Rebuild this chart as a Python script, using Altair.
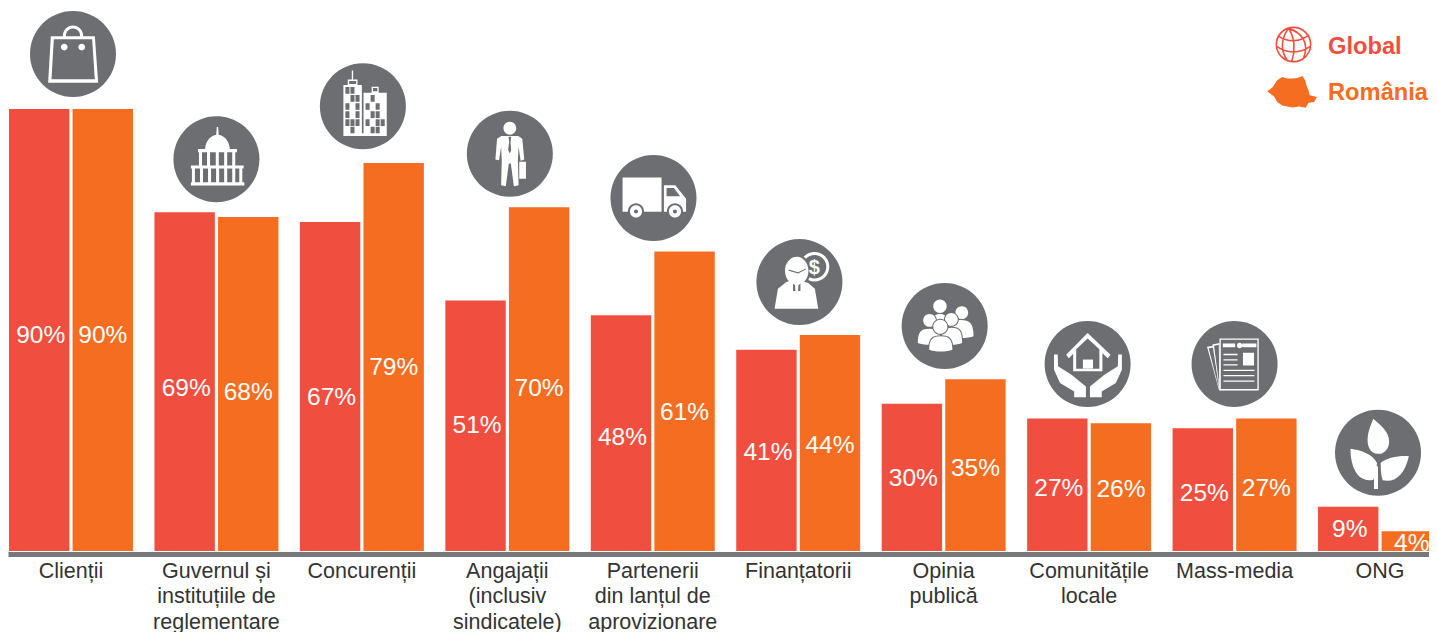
import altair as alt

categories = ["Clienții", "Guvernul și|instituțiile de|reglementare", "Concurenții",
              "Angajații|(inclusiv|sindicatele)", "Partenerii|din lanțul de|aprovizionare",
              "Finanțatorii", "Opinia|publică", "Comunitățile|locale", "Mass-media", "ONG"]
global_vals = [90, 69, 67, 51, 48, 41, 30, 27, 25, 9]
romania_vals = [90, 68, 79, 70, 61, 44, 35, 26, 27, 4]
global_label_level = [44.0, 33.4, 31.4, 25.7, 23.4, 20.2, 14.9, 13.0, 12.0, 4.5]
romania_label_level = [44.0, 32.4, 37.5, 33.4, 28.5, 21.6, 17.1, 12.8, 13.0, 1.8]
icon_level = [101.2, 79.8, 90.6, 80.9, 71.9, 54.8, 45.8, 38.1, 38.1, 20.0]
icon_nudge = [2, 0, 1, 2.5, 0.7, 1.2, 1, -1.5, 0, -2]
series = ["Global", "România"]

RED = "#F04E3E"
ORANGE = "#F46D21"
GRAY = "#6D6E71"
WHITE = "#FFFFFF"
FONT = "Liberation Sans"
UNIT = 128.0  # glyph drawing units per circle radius
ICON_SIZE = 86 ** 2
SCALE_W, PLOT_W, PLOT_H = 1435, 1421, 543
YMAX = PLOT_H / 4.91


def n(v):
    return f"{v / UNIT:.4f}"


def pt(x, y):
    return f"{n(x)} {n(y)}"


def poly(pts):
    return "M" + "L".join(pt(x, y) for x, y in pts) + "Z"


def rect(x, y, w, h):
    return poly([(x, y), (x + w, y), (x + w, y + h), (x, y + h)])


def ell(cx, cy, rx, ry=None):
    ry = rx if ry is None else ry
    k = 0.5523
    return ("M" + pt(cx - rx, cy)
            + "C" + pt(cx - rx, cy - k * ry) + " " + pt(cx - k * rx, cy - ry) + " " + pt(cx, cy - ry)
            + "C" + pt(cx + k * rx, cy - ry) + " " + pt(cx + rx, cy - k * ry) + " " + pt(cx + rx, cy)
            + "C" + pt(cx + rx, cy + k * ry) + " " + pt(cx + k * rx, cy + ry) + " " + pt(cx, cy + ry)
            + "C" + pt(cx - k * rx, cy + ry) + " " + pt(cx - rx, cy + k * ry) + " " + pt(cx - rx, cy) + "Z")


def curve(start, *segs):
    d = "M" + pt(*start)
    for a, b, c in segs:
        d += "C" + pt(*a) + " " + pt(*b) + " " + pt(*c)
    return d + "Z"


def body(x0, x1, top, bot):
    mid = (x0 + x1) / 2
    return curve((x0, bot),
                 ((x0, top + (bot - top) * 0.2), (x0 + (x1 - x0) * 0.15, top), (mid, top)),
                 ((x1 - (x1 - x0) * 0.15, top), (x1, top + (bot - top) * 0.2), (x1, bot)),
                 ((x1 - 15, bot + 7), (x0 + 15, bot + 7), (x0, bot)))


def shift(pts, cx, cy):
    return [(x - cx, y - cy) for x, y in pts]


# ---- glyphs (white / gray stacks drawn over the grey disc) ----
def bag():
    c = (219, 163)
    rel = lambda *p: shift(list(p), *c)
    return [
        (WHITE, ell(0, 108 - 163, 30)),
        (GRAY, ell(0, 108 - 163, 21)),
        (WHITE, poly(rel((153, 110), (284, 110), (294, 248), (145, 248)))),
        (GRAY, poly(rel((162, 119), (276, 119), (284, 238), (155, 238)))),
        (WHITE, ell(193 - 219, 142 - 163, 10) + ell(245 - 219, 142 - 163, 10)),
    ]


def dome():
    cx, cy = 649, 477
    d = poly(shift([(650, 381), (654, 381), (656, 408), (648, 408)], cx, cy))
    d += curve((615 - cx, 447 - cy), ((617 - cx, 420 - cy), (635 - cx, 404 - cy), (652 - cx, 404 - cy)),
               ((670 - cx, 404 - cy), (687 - cx, 420 - cy), (689 - cx, 447 - cy)),
               ((670 - cx, 447 - cy), (640 - cx, 447 - cy), (615 - cx, 447 - cy)))
    d += rect(594 - cx, 447 - cy, 116, 9)
    for x in (597, 621, 647, 672, 696):
        d += rect(x - cx, 456 - cy, 9, 40)
    d += rect(573 - cx, 496 - cy, 157, 9)
    for x in (576, 600, 624, 648, 672, 696, 717):
        d += rect(x - cx, 505 - cy, 9, 41)
    d += rect(573 - cx, 546 - cy, 159, 9)
    return [(WHITE, d)]


def towers():
    cx, cy = 1090, 319
    w = rect(1032 - cx, 256 - cy, 55, 151) + rect(1092 - cx, 279 - cy, 69, 128)
    w += rect(1032 - cx, 400 - cy, 129, 8) + rect(1057 - cx, 213 - cy, 4, 28)
    w += rect(1045 - cx, 240 - cy, 29, 16) + rect(1116 - cx, 261 - cy, 21, 18)
    g = rect(1049 - cx, 244 - cy, 21, 9) + rect(1120 - cx, 265 - cy, 13, 10)
    rows = {262: (1038, 1053), 286: (1053, 1068), 310: (1038, 1068), 334: (1038, 1068),
            358: (1038, 1053, 1068), 380: (1053,)}
    for y, xs in rows.items():
        for x in xs:
            g += rect(x - cx, y - cy, 12, 20)
    rows = {286: (1113,), 310: (1098, 1128), 334: (1113, 1128), 358: (1098, 1128, 1143), 380: (1113, 1128)}
    for y, xs in rows.items():
        for x in xs:
            g += rect(x - cx, y - cy, 12, 20)
    return [(WHITE, w), (GRAY, g)]


def man():
    c = (210, 161)
    w = ell(0, 85 - 161, 19)
    w += poly(shift([(185, 108), (235, 108), (247, 116), (253, 178), (242, 182), (236, 140), (234, 180),
                     (236, 255), (222, 258), (213, 190), (207, 190), (198, 258), (184, 255),
                     (186, 180), (184, 140), (178, 180), (167, 178), (172, 116)], *c))
    w += rect(238 - 210, 185 - 161, 20, 50)
    g = poly(shift([(206, 110), (214, 110), (212, 125), (214, 150), (210, 160), (205, 150), (208, 125)], *c))
    return [(WHITE, w), (GRAY, g)]


def truck():
    cx, cy = 641, 295
    w = rect(549 - cx, 234 - cy, 116, 102)
    w += poly(shift([(672, 257), (706, 257), (738, 297), (738, 336), (672, 336)], cx, cy))
    g = poly(shift([(680, 265), (702, 265), (720, 290), (680, 290)], cx, cy))
    g += ell(589 - cx, 335 - cy, 24) + ell(705 - cx, 335 - cy, 24)
    w2 = ell(589 - cx, 335 - cy, 18) + ell(705 - cx, 335 - cy, 18)
    g2 = ell(589 - cx, 335 - cy, 6) + ell(705 - cx, 335 - cy, 6)
    return [(WHITE, w), (GRAY, g), (WHITE, w2), (GRAY, g2)]


def financier():
    cx, cy = 1079, 545
    return [
        (WHITE, ell(1124 - cx, 500 - cy, 44)),
        (GRAY, ell(1124 - cx, 500 - cy, 35)),
        (GRAY, ell(1071 - cx, 512 - cy, 42, 48)),
        (WHITE, ell(1071 - cx, 512 - cy, 35, 42)
         + poly(shift([(1040, 545), (1060, 540), (1071, 555), (1082, 540), (1105, 548), (1125, 565),
                       (1135, 625), (1005, 625), (1015, 565)], cx, cy))),
        (GRAY, poly(shift([(1047, 508), (1075, 516), (1098, 505), (1098, 508), (1075, 520), (1047, 512)], cx, cy))
         + poly(shift([(1060, 550), (1066, 555), (1067, 572), (1060, 572)], cx, cy))
         + poly(shift([(1082, 550), (1076, 555), (1075, 572), (1082, 572)], cx, cy))),
    ]


def people():
    out = []
    figs = [(-14, -59, 20, -35, 7, -36, -8),
            (51, -40, 19, 10, 86, -18, 30),
            (-45, -17, 19, -80, -10, 8, 50),
            (20, -20, 19, -10, 52, 5, 50),
            (-13, 2, 21, -46, 23, 30, 70)]
    for hx, hy, r, x0, x1, top, bot in figs:
        out.append((GRAY, ell(hx, hy, r + 3) + body(x0 - 3, x1 + 3, top - 3, bot + 1)))
        out.append((WHITE, ell(hx, hy, r) + body(x0, x1, top, bot)))
    return out


def house_hands():
    left = [(-100, -28), (-89, -28), (-88, 7), (-48, 32), (-5, 67), (-5, 99), (-40, 99), (-40, 82),
            (-82, 57), (-100, 17)]
    right = [(2 - x, y) for x, y in left]
    white = poly(left) + poly(right)
    white += poly([(-64, -27), (0, -92), (68, -27), (60, -17), (0, -74), (-56, -17)])
    white += rect(-43, -48, 87, 70)
    gray = poly([(-34, -44), (0, -76), (35, -44), (35, 14), (-34, 14)])
    door = rect(-14, -13, 30, 27)
    return [(WHITE, white), (GRAY, gray), (WHITE, door)]


def newspaper():
    out = [
        (WHITE, poly([(-82, -51), (-62, -54), (-45, 79), (-46, 79)])),
        (GRAY, poly([(-77, -47), (-62, -49), (-47, 72)])),
        (WHITE, poly([(-66, -58), (-45, -62), (-42, 79), (-44, 79)])),
        (GRAY, poly([(-61, -54), (-47, -57), (-45, 68)])),
        (WHITE, rect(-45, -76, 117, 155)),
        (GRAY, rect(-41, -72, 109, 147)),
    ]
    d = rect(-35, -61, 37, 11) + ell(15, -55, 8) + rect(23, -61, 42, 11) + rect(25, -33, 33, 38)
    for y in (-30, -14, 1):
        d += rect(-33, y, 42, 4)
    for y in (17, 33, 49):
        d += rect(-33, y, 92, 4)
    out.append((WHITE, d))
    return out


def plant():
    d = curve((-14, -101), ((10, -80), (35, -60), (33, -30)), ((32, -10), (15, 5), (2, 3)),
              ((-20, 5), (-32, -15), (-31, -40)), ((-30, -65), (-20, -85), (-14, -101)))
    d += curve((-82, -12), ((-50, -8), (-15, 5), (-3, 30)), ((-4, 50), (-8, 65), (-14, 80)),
               ((-55, 90), (-82, 50), (-82, -12)))
    d += curve((92, 10), ((60, 8), (25, 15), (8, 30)), ((8, 45), (8, 65), (14, 82)),
               ((55, 90), (80, 60), (92, 10)))
    d += rect(-12, 40, 12, 68)
    return [(WHITE, d)]


ICONS = [bag(), dome(), towers(), man(), truck(), financier(), people(), house_hands(), newspaper(), plant()]

GLOBE = (ell(0, 0, 51)
         + "M" + pt(-45, -25) + "C" + pt(-15, -5) + " " + pt(20, -8) + " " + pt(45, -28)
         + "M" + pt(-51, 5) + "C" + pt(-20, 28) + " " + pt(20, 28) + " " + pt(51, 5)
         + "M" + pt(-15, -48) + "C" + pt(-42, -10) + " " + pt(-35, 25) + " " + pt(-18, 48)
         + "M" + pt(-15, -48) + "C" + pt(5, -20) + " " + pt(5, 20) + " " + pt(-5, 50)
         + "M" + pt(-15, -48) + "C" + pt(25, -35) + " " + pt(48, -5) + " " + pt(30, 40))
ROMANIA = poly(shift([(55, 243), (70, 232), (85, 210), (100, 200), (115, 205), (130, 205), (145, 203),
                      (160, 197), (168, 210), (172, 225), (178, 240), (182, 255), (203, 260), (195, 275),
                      (178, 277), (170, 292), (150, 288), (130, 291), (100, 285), (85, 275), (75, 258)],
                     129, 245))

# ---- data table ----
rows = []
for s, vals, lv in ((series[0], global_vals, global_label_level), (series[1], romania_vals, romania_label_level)):
    for c, v, l in zip(categories, vals, lv):
        rows.append({"cat": c, "series": s, "value": v, "level": l, "text": f"{v}%"})

xscale = alt.Scale(type="band", domain=categories, range=[0, SCALE_W], paddingInner=0.1478, paddingOuter=0.007)
yscale = alt.Scale(domain=[0, YMAX], nice=False)
oscale = alt.Scale(type="band", domain=series, paddingInner=0.05)

xaxis = alt.Axis(title=None, ticks=False, grid=False, domainColor="#77787B", domainWidth=5, offset=3,
                 labelAngle=0, labelFont=FONT, labelFontSize=21.5, labelColor="#333333", labelLineHeight=25.5,
                 labelPadding=6, labelBaseline="top", labelOverlap=False, labelLimit=300,
                 labelExpr="split(datum.label, '|')", zindex=1)

base = alt.Chart(alt.Data(values=rows))
bars = base.mark_bar(opacity=1).encode(
    x=alt.X("cat:N", scale=xscale, axis=xaxis),
    xOffset=alt.XOffset("series:N", scale=oscale),
    y=alt.Y("value:Q", scale=yscale, axis=None),
    color=alt.Color("series:N", scale=alt.Scale(domain=series, range=[RED, ORANGE]), legend=None),
)

layers = [bars]
for s, dx in ((series[0], 1.5), (series[1], 0)):
    layers.append(base.transform_filter(alt.datum.series == s)
                  .mark_text(color=WHITE, font=FONT, fontSize=24.5, baseline="middle", dx=dx, dy=1.5).encode(
        x=alt.X("cat:N", scale=xscale, axis=xaxis),
        xOffset=alt.XOffset("series:N", scale=oscale),
        y=alt.Y("level:Q", scale=yscale, axis=None),
        text="text:N",
    ))

enc = dict(x=alt.X("cat:N", scale=xscale, axis=xaxis), y=alt.Y("level:Q", scale=yscale, axis=None))
for c, lvl, nudge, stack in zip(categories, icon_level, icon_nudge, ICONS):
    one = alt.Chart(alt.Data(values=[{"cat": c, "level": lvl}]))
    layers.append(one.mark_point(shape=ell(0, 0, UNIT), size=ICON_SIZE, filled=True, opacity=1, color=GRAY,
                                 strokeWidth=0, xOffset=nudge).encode(**enc))
    for col, path in stack:
        layers.append(one.mark_point(shape=path, size=ICON_SIZE, filled=True, opacity=1, color=col,
                                     strokeWidth=0, xOffset=nudge).encode(**enc))
    if c == "Finanțatorii":
        layers.append(one.mark_text(text="$", font=FONT, fontWeight="bold", fontSize=20, color=WHITE,
                                    baseline="middle", xOffset=nudge + 15, yOffset=-14).encode(**enc))

# ---- legend ----
dummy = alt.Chart(alt.Data(values=[{"k": 1}]))
layers.append(dummy.mark_point(shape=GLOBE, size=ICON_SIZE, filled=False, opacity=1, color=RED, strokeWidth=1.6)
              .encode(x=alt.value(1285.5), y=alt.value(36.5)))
layers.append(dummy.mark_point(shape=ROMANIA, size=ICON_SIZE, filled=True, opacity=1, color=ORANGE, strokeWidth=0)
              .encode(x=alt.value(1284), y=alt.value(84)))
layers.append(dummy.mark_text(text=series[0], font=FONT, fontWeight="bold", fontSize=23.7, color=RED, align="left",
                              baseline="middle").encode(x=alt.value(1320), y=alt.value(39)))
layers.append(dummy.mark_text(text=series[1], font=FONT, fontWeight="bold", fontSize=23.7, color=ORANGE, align="left",
                              baseline="middle").encode(x=alt.value(1320), y=alt.value(85)))

chart = alt.layer(*layers).properties(
    width=PLOT_W, height=PLOT_H,
    autosize=alt.AutoSizeParams(type="none"),
    padding={"left": 0, "top": 0, "right": 0, "bottom": 81},
    background="white",
).configure_view(stroke=None)

chart.save("out.html", embed_options={"renderer": "svg", "actions": False})
